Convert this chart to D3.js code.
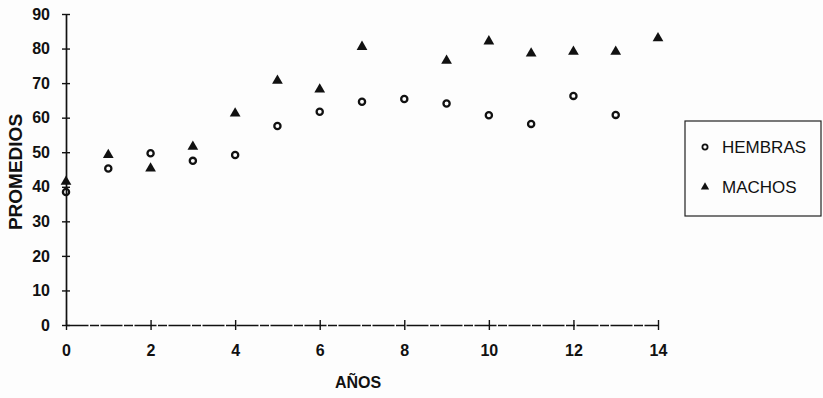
<!DOCTYPE html>
<html>
<head>
<meta charset="utf-8">
<script src="https://cdn.jsdelivr.net/npm/d3@7"></script>
<style>
  html, body { margin: 0; padding: 0; background: #fdfdfd; }
  svg { display: block; font-family: "Liberation Sans", Arial, sans-serif; }
</style>
</head>
<body>
<svg id="chart" width="823" height="398"></svg>
<script>
const xTicks = [0, 2, 4, 6, 8, 10, 12, 14];
const yTicks = [0, 10, 20, 30, 40, 50, 60, 70, 80, 90];

const hembrasYears = [0, 1, 2, 3, 4, 5, 6, 7, 8, 9, 10, 11, 12, 13];
const hembrasValues = [38.5, 45.3, 49.7, 47.5, 49.2, 57.6, 61.7, 64.6, 65.4, 64.1, 60.7, 58.2, 66.3, 60.8];

const machosYears = [0, 1, 2, 3, 4, 5, 6, 7, 9, 10, 11, 12, 13, 14];
const machosValues = [41.5, 49.2, 45.3, 51.6, 61.2, 70.7, 68.2, 80.5, 76.5, 82.1, 78.6, 79.1, 79.1, 83.0];

const seriesNames = ["HEMBRAS", "MACHOS"];
const xTitle = "AÑOS";
const yTitle = "PROMEDIOS";

const svg = d3.select("#chart");
const x = d3.scaleLinear().domain([0, 14]).range([66, 658]);
const y = d3.scaleLinear().domain([0, 90]).range([325, 14]);

// Y axis
const yAxis = svg.append("g")
  .attr("transform", `translate(${x(0)},0)`)
  .call(d3.axisLeft(y).tickValues(yTicks).tickSizeInner(4).tickSizeOuter(0).tickPadding(12));
yAxis.select(".domain").attr("stroke", "#111").attr("stroke-width", 1.7);
yAxis.selectAll(".tick line").attr("x1", 4).attr("x2", -4).attr("stroke", "#111").attr("stroke-width", 1.4);
yAxis.selectAll(".tick text").attr("font-size", 16).attr("font-weight", "bold").attr("fill", "#111")
  .attr("font-family", "Liberation Sans, Arial, sans-serif");

// X axis
const xAxis = svg.append("g")
  .attr("transform", `translate(0,${y(0)})`)
  .call(d3.axisBottom(x).tickValues(xTicks).tickSizeInner(4).tickSizeOuter(0).tickPadding(16));
xAxis.select(".domain").attr("stroke", "#111").attr("stroke-width", 1.3).attr("stroke-dasharray", "22,1.5,9,1.5");
xAxis.selectAll(".tick line").attr("y1", -5).attr("y2", 5).attr("stroke", "#111").attr("stroke-width", 1.4);
xAxis.selectAll(".tick text").attr("font-size", 16).attr("font-weight", "bold").attr("fill", "#111")
  .attr("font-family", "Liberation Sans, Arial, sans-serif");

// Axis titles
svg.append("text")
  .attr("x", 358).attr("y", 388)
  .attr("text-anchor", "middle")
  .attr("font-size", 16).attr("font-weight", "bold").attr("fill", "#111")
  .text(xTitle);
svg.append("text")
  .attr("transform", `translate(22,172) rotate(-90)`)
  .attr("text-anchor", "middle")
  .attr("font-size", 19).attr("font-weight", "bold").attr("fill", "#111")
  .text(yTitle);

// Points
const tri = d3.symbol().type(d3.symbolTriangle).size(50);

svg.append("g").selectAll("circle")
  .data(hembrasYears.map((d, i) => [d, hembrasValues[i]]))
  .join("circle")
  .attr("cx", d => x(d[0])).attr("cy", d => y(d[1]))
  .attr("r", 3.1).attr("fill", "none").attr("stroke", "#111").attr("stroke-width", 2.3);

svg.append("g").selectAll("path")
  .data(machosYears.map((d, i) => [d, machosValues[i]]))
  .join("path")
  .attr("d", tri)
  .attr("transform", d => `translate(${x(d[0])},${y(d[1])})`)
  .attr("fill", "#111");

// Legend
const lg = svg.append("g");
lg.append("rect")
  .attr("x", 685).attr("y", 121).attr("width", 136).attr("height", 95)
  .attr("fill", "none").attr("stroke", "#222").attr("stroke-width", 1.2);
lg.append("circle").attr("cx", 705).attr("cy", 147).attr("r", 2.6)
  .attr("fill", "none").attr("stroke", "#111").attr("stroke-width", 1.8);
lg.append("path").attr("d", d3.symbol().type(d3.symbolTriangle).size(30))
  .attr("transform", "translate(705,187)").attr("fill", "#111");
lg.selectAll("text.lab")
  .data(seriesNames)
  .join("text")
  .attr("class", "lab")
  .attr("x", 722).attr("y", (d, i) => 147 + i * 40)
  .attr("dy", "0.36em")
  .attr("font-size", 17).attr("fill", "#111")
  .text(d => d);
</script>
</body>
</html>
